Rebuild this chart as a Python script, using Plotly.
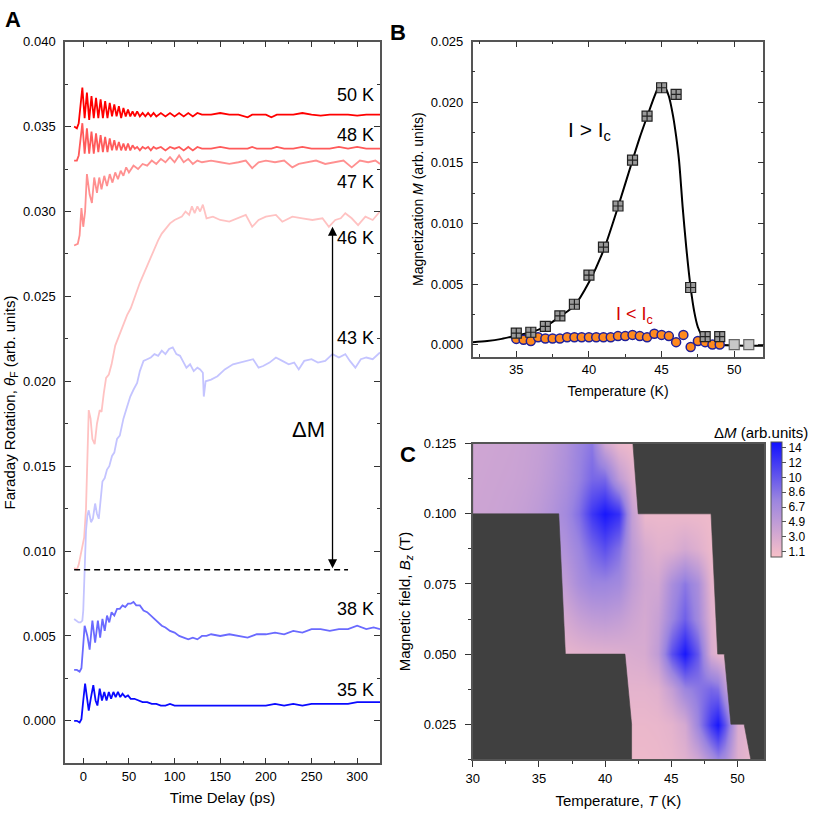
import plotly.graph_objects as go

# ---------------- Panel A : Faraday rotation transients (delay ps, rotation arb. units)
trace_50K = [(-10, 0.0350), (-7, 0.0349), (-5, 0.0352), (-3, 0.0362), (-1, 0.0373), (1.5, 0.0355),
             (4, 0.0370), (6.5, 0.0354), (9, 0.0368), (11.5, 0.0355), (14, 0.0367), (16.5, 0.0355),
             (19, 0.0366), (21.5, 0.0355), (24, 0.0365), (26.5, 0.0355), (29, 0.0364), (31.5, 0.0356),
             (34, 0.0363), (36.5, 0.0356), (39, 0.0362), (41.5, 0.0355), (44, 0.0361), (46.5, 0.0356),
             (49, 0.0360), (51.5, 0.0356), (54, 0.0359), (56.5, 0.0356), (59, 0.0359), (62, 0.0356),
             (65, 0.0358), (68, 0.0356), (71, 0.0358), (74, 0.0356), (77, 0.0358), (80, 0.0356),
             (85, 0.0358), (90, 0.0356), (95, 0.0358), (100, 0.0356), (105, 0.0358), (110, 0.0356),
             (115, 0.0358), (120, 0.0356), (125, 0.0358), (130, 0.0357), (140, 0.0357), (150, 0.0358),
             (160, 0.0357), (170, 0.0357), (180, 0.03555), (185, 0.0357), (190, 0.0357), (200, 0.0357),
             (206, 0.03555), (212, 0.0357), (220, 0.0357), (230, 0.0357), (240, 0.0358), (250, 0.0357),
             (260, 0.03565), (270, 0.0357), (280, 0.0357), (290, 0.0357), (300, 0.03565), (310, 0.0357),
             (325, 0.0357)]

trace_48K = [(-10, 0.0330), (-7, 0.0330), (-5, 0.0333), (-3, 0.0342), (-1, 0.0352), (1.5, 0.0334),
             (4, 0.0349), (6.5, 0.0334), (9, 0.0347), (11.5, 0.0334), (14, 0.0346), (16.5, 0.0335),
             (19, 0.0345), (21.5, 0.0335), (24, 0.0344), (26.5, 0.0335), (29, 0.0343), (31.5, 0.0336),
             (34, 0.0342), (36.5, 0.0336), (39, 0.0341), (41.5, 0.0336), (44, 0.0340), (46.5, 0.0336),
             (49, 0.0340), (51.5, 0.0336), (54, 0.0339), (56.5, 0.0337), (59, 0.0338), (62, 0.0336),
             (65, 0.0338), (68, 0.0337), (71, 0.0338), (74, 0.0336), (77, 0.0338), (80, 0.0337),
             (85, 0.0338), (90, 0.0336), (95, 0.0338), (100, 0.0337), (105, 0.0338), (110, 0.0336),
             (115, 0.0338), (120, 0.0336), (125, 0.0338), (130, 0.0337), (140, 0.0337), (150, 0.0338),
             (160, 0.0337), (170, 0.0337), (180, 0.0337), (185, 0.0338), (190, 0.0337), (200, 0.0337),
             (206, 0.0337), (212, 0.0338), (220, 0.0337), (230, 0.0337), (240, 0.0338), (250, 0.0337),
             (260, 0.0337), (270, 0.0337), (280, 0.0338), (290, 0.0337), (300, 0.0338), (310, 0.0337),
             (325, 0.0337)]

trace_47K = [(-10, 0.0280), (-6, 0.0281), (-4, 0.0286), (-2, 0.0302), (0, 0.0291), (2, 0.0300),
             (4, 0.0322), (7, 0.0310), (9.5, 0.0305), (12, 0.0320), (15, 0.0311), (17.5, 0.0320),
             (20, 0.0313), (23, 0.0321), (26, 0.0315), (29, 0.0322), (32, 0.0317), (35, 0.0323),
             (38, 0.0319), (41, 0.0324), (44, 0.0321), (47, 0.0326), (50, 0.0323), (55, 0.0327),
             (60, 0.0325), (65, 0.0328), (70, 0.0327), (75, 0.0330), (80, 0.0328), (85, 0.0331),
             (90, 0.0329), (95, 0.0332), (100, 0.0329), (105, 0.0333), (110, 0.0329), (115, 0.0331),
             (120, 0.0328), (125, 0.0330), (130, 0.0329), (140, 0.0330), (150, 0.0329), (160, 0.0328),
             (170, 0.0329), (178, 0.0330), (185, 0.03255), (192, 0.0329), (200, 0.0330), (210, 0.0329),
             (220, 0.0330), (229, 0.0326), (236, 0.0328), (245, 0.0329), (255, 0.0330), (265, 0.0328),
             (275, 0.0329), (285, 0.0330), (294, 0.0326), (303, 0.0330), (312, 0.0329), (320, 0.0330),
             (325, 0.0328)]

trace_46K = [(-10, 0.0090), (-7, 0.0089), (-5, 0.0092), (-3, 0.0098), (-1, 0.0104), (1, 0.0108),
             (3, 0.0125), (5, 0.0168), (6, 0.0183), (8, 0.0178), (10, 0.0166), (12.5, 0.0163),
             (15, 0.0175), (18, 0.0183), (20, 0.0182), (22.5, 0.0193), (25, 0.0202), (28, 0.0204),
             (31, 0.0210), (35, 0.0221), (38, 0.0225), (42, 0.0231), (45, 0.0235), (48, 0.0239),
             (52, 0.0243), (55, 0.0247), (58, 0.0252), (62, 0.0258), (66, 0.0263), (70, 0.0269),
             (74, 0.0273), (78, 0.0279), (82, 0.0283), (86, 0.0287), (90, 0.0290), (95, 0.0293),
             (100, 0.0295), (104, 0.0296), (108, 0.0297), (112, 0.0300), (116, 0.0298), (119, 0.0303),
             (122, 0.0299), (125, 0.0303), (128, 0.0300), (131, 0.0304), (135, 0.0296), (142, 0.0297),
             (150, 0.0295), (160, 0.0294), (170, 0.0296), (178, 0.0298), (185, 0.0291), (192, 0.0295),
             (200, 0.0297), (211, 0.0298), (218, 0.0294), (229, 0.0297), (240, 0.0296), (251, 0.0295),
             (262, 0.0296), (269, 0.0291), (276, 0.0295), (282, 0.0296), (287, 0.0299), (294, 0.0296),
             (301, 0.0292), (309, 0.0297), (317, 0.0295), (325, 0.0300)]

trace_43K = [(-10, 0.0060), (-7, 0.0059), (-5, 0.0058), (-3, 0.0058), (-1, 0.0059), (0, 0.0065),
             (1, 0.0082), (3, 0.0112), (4.5, 0.0121), (6, 0.0124), (8.5, 0.0117), (10.5, 0.0119),
             (13, 0.0128), (15, 0.0122), (17, 0.0119), (19, 0.0132), (21, 0.0141), (23.5, 0.0143),
             (26, 0.0148), (28.5, 0.0150), (31.5, 0.0156), (34, 0.0158), (37, 0.0166), (40, 0.0168),
             (44, 0.0178), (48, 0.0185), (51.5, 0.0191), (55, 0.0195), (59, 0.0199), (62, 0.0206),
             (66, 0.0212), (70, 0.0213), (74, 0.0214), (78, 0.0216), (82, 0.0215), (86, 0.0218),
             (90, 0.0216), (94, 0.0219), (98, 0.0220), (102, 0.0216), (106, 0.0215), (110, 0.0211),
             (113, 0.0208), (117, 0.0210), (121, 0.0206), (125, 0.0208), (128, 0.0207), (131, 0.0205),
             (132, 0.0191), (134, 0.0200), (140, 0.0201), (147, 0.0203), (155, 0.0207), (164, 0.0210),
             (172, 0.0211), (180, 0.0212), (186, 0.0213), (192, 0.0208), (197, 0.0209), (204, 0.0211),
             (211, 0.0214), (218, 0.0212), (225, 0.0210), (231, 0.0211), (236, 0.0207), (242, 0.0212),
             (250, 0.0213), (257, 0.0211), (265, 0.0212), (273, 0.0216), (280, 0.0214), (287, 0.0216),
             (292, 0.0212), (298, 0.0208), (304, 0.0213), (310, 0.0214), (317, 0.0213), (325, 0.0217)]

trace_38K = [(-10, 0.0030), (-7, 0.0030), (-4, 0.0029), (-2, 0.0031), (0, 0.0045), (1.5, 0.0056),
             (4.5, 0.0050), (7, 0.0042), (10, 0.0059), (13, 0.0046), (16, 0.0059), (18.5, 0.0049),
             (21, 0.0060), (23.5, 0.0053), (26, 0.0062), (28.5, 0.0058), (31, 0.0064), (34, 0.0062),
             (37, 0.0066), (40, 0.0066), (43, 0.0068), (46, 0.0067), (49, 0.0069), (52, 0.0069),
             (55, 0.0070), (58, 0.0068), (62, 0.0068), (66, 0.0065), (70, 0.0064), (74, 0.0062),
             (78, 0.0060), (82, 0.0058), (86, 0.0056), (90, 0.0055), (95, 0.0053), (100, 0.0052),
             (105, 0.0050), (110, 0.0049), (115, 0.0048), (120, 0.0049), (125, 0.0048), (130, 0.0050),
             (135, 0.0050), (140, 0.0051), (150, 0.0050), (160, 0.0051), (170, 0.0050), (180, 0.0049),
             (190, 0.0051), (200, 0.0051), (210, 0.0052), (220, 0.0051), (230, 0.0053), (240, 0.0052),
             (250, 0.0054), (260, 0.0054), (270, 0.0053), (280, 0.0054), (290, 0.0054), (300, 0.0056),
             (310, 0.0054), (318, 0.0055), (325, 0.0054)]

trace_35K = [(-10, 0.0000), (-7, 0.0000), (-4, -0.0001), (-2, 0.0001), (0, 0.0012), (2, 0.0022),
             (4, 0.0014), (6, 0.0006), (8.5, 0.0014), (11, 0.0021), (13.5, 0.0012), (15.5, 0.0009),
             (18, 0.0019), (20.5, 0.0012), (23, 0.0017), (25.5, 0.0012), (28, 0.0017), (30.5, 0.0013),
             (33, 0.0017), (35.5, 0.0014), (38, 0.0017), (40.5, 0.0014), (43, 0.0016), (46, 0.0014),
             (49, 0.0015), (52, 0.0013), (56, 0.0013), (60, 0.0012), (65, 0.0011), (70, 0.0011),
             (75, 0.0010), (80, 0.0010), (85, 0.0009), (90, 0.0009), (95, 0.0010), (100, 0.0009),
             (110, 0.0009), (120, 0.0009), (130, 0.0009), (140, 0.0009), (150, 0.0009), (160, 0.0009),
             (170, 0.0009), (180, 0.0009), (190, 0.0009), (200, 0.0009), (210, 0.0010), (220, 0.0009),
             (230, 0.0010), (240, 0.0009), (250, 0.0010), (260, 0.0010), (270, 0.0010), (280, 0.0010),
             (290, 0.0010), (300, 0.0011), (310, 0.0011), (325, 0.0011)]

baseline_t = [-10, 290]
baseline_level = 0.0089
delta_m_top = 0.0291
delta_m_t = 273

# ---------------- Panel B : magnetization vs temperature
fit_curve = [(32, 0.00019), (33, 0.00029), (34, 0.00047), (35, 0.00074), (36, 0.00102), (37, 0.00149),
             (38, 0.00231), (39, 0.00322), (40, 0.00515), (41, 0.00777), (42, 0.01136), (43, 0.01522),
             (43.5, 0.0171), (44, 0.0188), (44.5, 0.02046), (44.8, 0.0213), (45.0, 0.02145),
             (45.2, 0.0213), (45.5, 0.0205), (45.8, 0.0188), (46.0, 0.0172), (46.2, 0.0152),
             (46.45, 0.01135), (46.7, 0.0080), (47.0, 0.0047), (47.25, 0.0027), (47.5, 0.00143),
             (47.75, 0.0008), (48.0, 0.00047), (48.5, 0.0001), (49, -0.00002), (50, -0.00008),
             (52, -0.0001)]

above_T = [35, 36, 37, 38, 39, 40, 41, 42, 43, 44, 45, 46, 47, 48, 49]
above_M = [0.00094, 0.00102, 0.00151, 0.00237, 0.00333, 0.00573, 0.00805, 0.01144, 0.01522,
           0.01885, 0.0212, 0.02065, 0.00471, 0.00066, 0.00066]
above_tail_T = [50, 51]
above_tail_M = [0.0, 0.0]

below_T = [35, 35.5, 36, 36.5, 37, 37.5, 38, 38.5, 39, 39.5, 40, 40.5, 41, 41.5, 42, 42.5, 43,
           43.5, 44, 44.5, 45, 45.5, 46, 46.5, 47, 47.5, 48, 48.5, 49]
below_M = [0.00047, 0.0004, 0.0003, 0.0006, 0.0005, 0.0005, 0.0005, 0.0006, 0.0006, 0.0006, 0.0006,
           0.0006, 0.0006, 0.0006, 0.0007, 0.0007, 0.0008, 0.0007, 0.0006, 0.0009, 0.0008, 0.0007,
           0.0002, 0.0008, -0.0002, 0.0003, 0.0002, 0.0000, 0.0000]

# ---------------- Panel C : delta M map (T in K, B in T)
heat_T = [30, 31, 32, 33, 34, 35, 36, 37, 38, 39, 40, 41, 42, 43, 44, 45, 46, 47, 48, 48.5, 49, 50, 51]
heat_B = [0.0125, 0.025, 0.0375, 0.05, 0.0625, 0.075, 0.0875, 0.1, 0.1125, 0.125]
heat_dM = [
    [1.3, 1.3, 1.3, 1.3, 1.3, 1.3, 1.3, 1.3, 1.3, 1.3, 1.3, 1.3, 1.3, 1.3, 1.4, 1.6, 2.2, 3.5, 6.0, 7.5, 6.5, 2.5, 1.5],
    [1.5, 1.5, 1.5, 1.5, 1.5, 1.5, 1.5, 1.5, 1.5, 1.5, 1.5, 1.5, 1.5, 1.5, 1.6, 2.0, 3.2, 7.5, 12.5, 14.5, 11.0, 2.8, 1.8],
    [2.0, 2.0, 2.0, 2.0, 2.0, 2.0, 2.0, 2.0, 2.0, 2.0, 2.0, 2.0, 2.0, 2.0, 2.3, 4.5, 7.5, 8.5, 9.5, 9.0, 5.5, 2.0, 2.0],
    [1.8, 1.8, 1.8, 1.8, 1.8, 1.8, 1.8, 1.8, 2.0, 2.2, 2.3, 2.5, 2.8, 3.0, 4.8, 11.0, 14.5, 10.5, 3.0, 1.8, 1.5, 1.5, 1.5],
    [3.2, 3.2, 3.2, 3.2, 3.2, 3.2, 3.2, 3.2, 4.2, 4.8, 5.0, 4.6, 3.8, 3.2, 4.2, 7.5, 10.0, 7.0, 2.4, 1.6, 1.5, 1.5, 1.5],
    [4.2, 4.2, 4.2, 4.2, 4.2, 4.2, 4.2, 4.8, 6.5, 7.5, 7.5, 7.0, 4.8, 3.5, 3.4, 6.5, 8.5, 6.5, 1.9, 1.5, 1.5, 1.5, 1.5],
    [5.5, 5.5, 5.5, 5.5, 5.5, 5.5, 5.5, 6.0, 7.5, 9.5, 11.0, 9.0, 5.0, 3.0, 2.2, 2.4, 3.2, 2.4, 1.3, 1.3, 1.3, 1.3, 1.3],
    [3.8, 3.9, 4.0, 4.2, 4.5, 5.0, 5.8, 7.0, 9.0, 12.5, 14.5, 13.0, 4.5, 1.4, 1.4, 1.4, 1.3, 1.3, 1.2, 1.2, 1.2, 1.2, 1.2],
    [3.7, 3.8, 3.9, 4.0, 4.2, 4.6, 5.3, 6.3, 7.8, 9.5, 9.5, 5.0, 2.5, 1.5, 1.5, 1.5, 1.5, 1.5, 1.5, 1.5, 1.5, 1.5, 1.5],
    [3.6, 3.7, 3.8, 3.9, 4.1, 4.4, 5.0, 6.0, 7.5, 8.5, 3.5, 1.5, 1.2, 1.2, 1.2, 1.2, 1.2, 1.2, 1.2, 1.2, 1.2, 1.2, 1.2],
]
# measured field bands: lower/upper field and left/right temperature limits at each edge
band_B_lo = [0.0125, 0.025, 0.05, 0.1]
band_B_hi = [0.025, 0.05, 0.1, 0.125]
band_T_left_lo = [42.0, 42.0, 37.0, 30.0]
band_T_left_hi = [42.0, 41.5, 36.5, 30.0]
band_T_right_lo = [51.0, 49.5, 48.5, 42.5]
band_T_right_hi = [50.5, 49.0, 48.0, 42.1]

cbar_ticks = [1.1, 3.0, 4.9, 6.7, 8.6, 10.45, 12.3, 14.2]
cbar_text = ["1.1", "3.0", "4.9", "6.7", "8.6", "10", "12", "14"]

FONT = "Liberation Sans, Arial, sans-serif"
AX_COL = "#555555"
DARK = "#404040"

fig = go.Figure()

curves_A = [
    ("50 K", trace_50K, "#ff0000", 0.03686),
    ("48 K", trace_48K, "#ff5a5a", 0.03451),
    ("47 K", trace_47K, "#ff9090", 0.03175),
    ("46 K", trace_46K, "#ffc2c2", 0.02843),
    ("43 K", trace_43K, "#c4c4ff", 0.02255),
    ("38 K", trace_38K, "#6a6aff", 0.00657),
    ("35 K", trace_35K, "#0a0aff", 0.00184),
]

annotations = []
for name, pts, color, label_y in curves_A:
    fig.add_trace(go.Scatter(
        x=[p[0] for p in pts], y=[p[1] for p in pts], mode="lines",
        line=dict(color=color, width=1.8), showlegend=False, xaxis="x", yaxis="y",
    ))
    annotations.append(dict(x=321, y=label_y, xref="x", yref="y", text=name, showarrow=False,
                            xanchor="right", yanchor="middle", font=dict(size=18, color="black")))

fig.add_trace(go.Scatter(
    x=baseline_t, y=[baseline_level, baseline_level], mode="lines",
    line=dict(color="black", width=1.4, dash="6px,4px"), showlegend=False, xaxis="x", yaxis="y",
))
annotations.append(dict(x=delta_m_t, y=delta_m_top, ax=delta_m_t, ay=baseline_level,
                        xref="x", yref="y", axref="x", ayref="y", text="", showarrow=True,
                        arrowhead=2, startarrowhead=2, arrowside="end+start", arrowsize=1.4,
                        arrowwidth=1.3, arrowcolor="black"))
annotations.append(dict(x=247, y=0.01714, xref="x", yref="y", text="ΔM", showarrow=False,
                        font=dict(size=22, color="black")))

# panel B
fig.add_trace(go.Scatter(
    x=[p[0] for p in fit_curve], y=[p[1] for p in fit_curve], mode="lines",
    line=dict(color="black", width=2, shape="spline", smoothing=0.8),
    showlegend=False, xaxis="x2", yaxis="y2",
))
fig.add_trace(go.Scatter(
    x=below_T, y=below_M, mode="markers",
    marker=dict(symbol="circle", size=9, color="#ff8a1e", line=dict(color="#20209a", width=1.5)),
    showlegend=False, xaxis="x2", yaxis="y2",
))
fig.add_trace(go.Scatter(
    x=above_T, y=above_M, mode="markers",
    marker=dict(symbol="square-cross", size=10, color="#9a9a9a", line=dict(color="#222222", width=1.2)),
    showlegend=False, xaxis="x2", yaxis="y2",
))
fig.add_trace(go.Scatter(
    x=above_tail_T, y=above_tail_M, mode="markers",
    marker=dict(symbol="square", size=10, color="#c8c8c8", line=dict(color="#666666", width=1.2)),
    showlegend=False, xaxis="x2", yaxis="y2",
))
annotations.append(dict(x=38.45, y=0.0176, xref="x2", yref="y2", text="I > I<sub>c</sub>",
                        showarrow=False, xanchor="left", yanchor="middle",
                        font=dict(size=21, color="black")))
annotations.append(dict(x=41.75, y=0.0024, xref="x2", yref="y2", text="I < I<sub>c</sub>",
                        showarrow=False, xanchor="left", yanchor="middle",
                        font=dict(size=18, color="#d40000")))

# panel C
fig.add_trace(go.Heatmap(
    x=heat_T, y=heat_B, z=heat_dM, zsmooth="best", zmin=0.47, zmax=14.95,
    colorscale=[[0, "#f8c0c8"], [0.5, "#9a84e0"], [1, "#1010ff"]],
    xaxis="x3", yaxis="y3", hoverinfo="skip",
    colorbar=dict(x=771 / 830, xanchor="left", xpad=0, ypad=0, y=1 - 441.7 / 830, yanchor="top",
                  len=115 / 830, lenmode="fraction", thickness=11, outlinewidth=1,
                  outlinecolor=AX_COL, tickvals=cbar_ticks, ticktext=cbar_text, ticks="outside",
                  ticklen=4, tickcolor=AX_COL, tickfont=dict(size=12, family=FONT)),
))
left_x = [30] + [v for lo, hi in zip(band_T_left_lo, band_T_left_hi) for v in (lo, hi)] + [30]
right_x = [52] + [v for lo, hi in zip(band_T_right_lo, band_T_right_hi) for v in (lo, hi)] + [52]
edge_y = [band_B_lo[0]] + [v for lo, hi in zip(band_B_lo, band_B_hi) for v in (lo, hi)] + [band_B_hi[-1]]
for xs in (left_x, right_x):
    fig.add_trace(go.Scatter(
        x=xs, y=edge_y, mode="lines", fill="toself", fillcolor=DARK,
        line=dict(color=DARK, width=0.6), hoverinfo="skip", showlegend=False,
        xaxis="x3", yaxis="y3",
    ))
annotations.append(dict(x=810 / 830, y=1 - 432 / 830, xref="paper", yref="paper",
                        text="Δ<i>M</i> (arb.units)", showarrow=False, xanchor="right",
                        yanchor="middle", font=dict(size=15, color="black")))

for letter, px, py in (("A", 3, 5), ("B", 388, 18), ("C", 398, 440)):
    annotations.append(dict(x=px / 830, y=1 - py / 830, xref="paper", yref="paper",
                            text=f"<b>{letter}</b>", showarrow=False, xanchor="left",
                            yanchor="top", font=dict(size=22, color="black")))


def inside_axis(**kw):
    base = dict(showline=True, linecolor=AX_COL, linewidth=1.5, mirror="ticks", ticks="inside",
                ticklen=6, tickwidth=1.2, tickcolor="#333333", showgrid=False, zeroline=False,
                tickfont=dict(size=13, color="black"), ticklabelstandoff=5)
    base.update(kw)
    return base


fig.update_layout(
    width=830, height=830, template="none", showlegend=False,
    margin=dict(l=0, r=0, t=0, b=0, autoexpand=False), paper_bgcolor="white", plot_bgcolor="white",
    font=dict(family=FONT, color="black"),
    xaxis=inside_axis(domain=[65 / 830, 380 / 830], range=[-20, 325], dtick=50, tick0=0,
                      ticklabelstandoff=0,
                      minor=dict(dtick=25, ticks="inside", ticklen=3, tickcolor="#333333"),
                      title=dict(text="Time Delay (ps)", font=dict(size=15), standoff=10),
                      anchor="y"),
    yaxis=inside_axis(domain=[1 - 763.3 / 830, 1 - 41.7 / 830], range=[-0.0025, 0.040],
                      dtick=0.005, tick0=0, tickformat=".3f",
                      minor=dict(dtick=0.0025, ticks="inside", ticklen=3, tickcolor="#333333"),
                      title=dict(text="Faraday Rotation, <i>θ</i><sub>F</sub> (arb. units)",
                                 font=dict(size=15), standoff=4),
                      anchor="x"),
    xaxis2=inside_axis(domain=[472.7 / 830, 763.3 / 830], range=[32, 52], dtick=5, tick0=0,
                       ticklabelstandoff=0,
                       minor=dict(dtick=2.5, ticks="inside", ticklen=3, tickcolor="#333333"),
                       title=dict(text="Temperature (K)", font=dict(size=14), standoff=10),
                       anchor="y2"),
    yaxis2=inside_axis(domain=[1 - 356.7 / 830, 1 - 41.7 / 830], range=[-0.001, 0.025],
                       dtick=0.005, tick0=0, tickformat=".3f",
                       minor=dict(dtick=0.0025, ticks="inside", ticklen=3, tickcolor="#333333"),
                       title=dict(text="Magnetization <i>M</i> (arb. units)", font=dict(size=14),
                                  standoff=4),
                       anchor="x2"),
    xaxis3=dict(domain=[472.7 / 830, 764 / 830], range=[30, 52], dtick=5, tick0=0,
                showline=True, linecolor=AX_COL, linewidth=1.5, mirror=True, ticks="outside",
                ticklen=6, tickcolor="#333333", showgrid=False, zeroline=False,
                minor=dict(dtick=2.5, ticks="outside", ticklen=3, tickcolor="#333333"),
                tickfont=dict(size=13, color="black"),
                title=dict(text="Temperature, <i>T</i> (K)", font=dict(size=15), standoff=11),
                anchor="y3"),
    yaxis3=dict(domain=[1 - 759.3 / 830, 1 - 443.7 / 830], range=[0.0125, 0.125],
                tickvals=[0.025, 0.05, 0.075, 0.1, 0.125], tickformat=".3f",
                showline=True, linecolor=AX_COL, linewidth=1.5, mirror=True, ticks="outside",
                ticklen=6, tickcolor="#333333", showgrid=False, zeroline=False,
                minor=dict(dtick=0.0125, ticks="outside", ticklen=3, tickcolor="#333333"),
                tickfont=dict(size=13, color="black"), ticklabelstandoff=6,
                title=dict(text="Magnetic field, <i>B<sub>z</sub></i> (T)", font=dict(size=15),
                           standoff=10),
                anchor="x3"),
    annotations=annotations,
)
# dark background for the unmeasured part of the map
fig.add_shape(type="rect", xref="x3 domain", yref="y3 domain", x0=0, x1=1, y0=0, y1=1,
              fillcolor=DARK, line_width=0, layer="below")

# the page keeps the figure flush with the window corner
fig.write_html("out.html", config={"displayModeBar": False},
               post_script="document.body.style.margin = '0px';")
